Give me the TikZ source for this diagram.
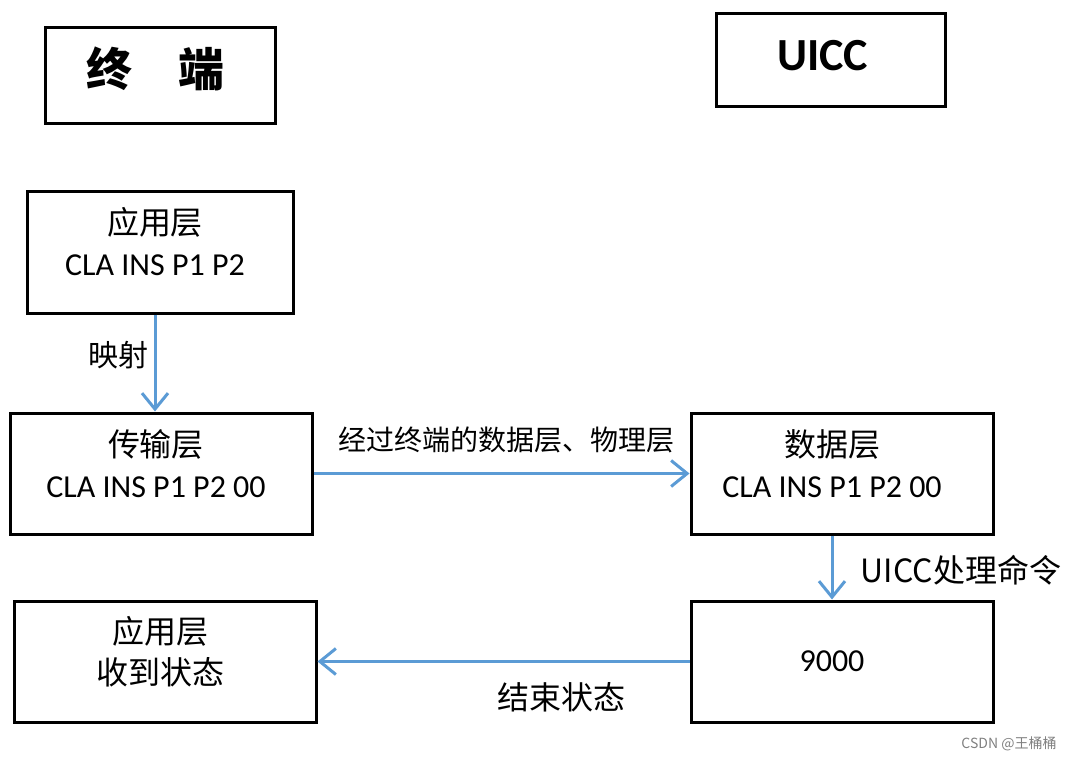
\documentclass[tikz,border=0pt]{standalone}
\usepackage{fontspec}
\setmainfont{Carlito}
\newfontfamily\cjk{Noto Sans CJK SC}
\usepackage{tikz}
\usetikzlibrary{arrows.meta}

\definecolor{arrowblue}{HTML}{5B9BD5}

\begin{document}
\begin{tikzpicture}[x=1pt,y=-1pt,
        box/.style={draw, line width=3pt, minimum width=302pt, minimum height=121pt, inner sep=0pt},
        txt/.style={align=center, font=\fontsize{32}{41}\selectfont},
        lab/.style={font=\cjk\fontsize{30}{36}\selectfont},
        arr/.style={draw=arrowblue, line width=3pt, -{Straight Barb[length=16pt,width=26pt]}}]
        \useasboundingbox (0,0) rectangle (1080,760);

        % the two sides
        \node[box, minimum width=230pt, minimum height=95pt] (term) at (160,75.5) {};
        \node[txt, font=\cjk\bfseries\fontsize{46}{50}\selectfont] (termtext) at ([xshift=-5,yshift=7]term) {终\hspace{1em}端};
        \node[box, minimum width=229pt, minimum height=93pt] (uicc) at (830.5,60.5) {};
        \node[txt, font=\bfseries\fontsize{46}{50}\selectfont] (uicctext) at ([xshift=-8,yshift=5]uicc) {UICC};

        % layers
        \node[box, minimum width=266pt, minimum height=122pt] (app) at (160,252) {};
        \node[txt] (apptext) at ([xshift=-5,yshift=10]app) {{\cjk 应用层}\\CLA INS P1 P2};
        \node[box] (trans) at (161,473.5) {};
        \node[txt] (transtext) at ([xshift=-5,yshift=10]trans) {{\cjk 传输层}\\CLA INS P1 P2 00};
        \node[box] (data) at (842,473.5) {};
        \node[txt] (datatext) at ([xshift=-10,yshift=10]data) {{\cjk 数据层}\\CLA INS P1 P2 00};
        \node[box] (resp) at (842,661.5) {};
        \node[txt] (resptext) at ([xshift=-10]resp) {9000};
        \node[box] (recv) at (165,661.5) {};
        \node[txt] (recvtext) at ([xshift=-5,yshift=10]recv) {{\cjk 应用层}\\{\cjk 收到状态}};

        % connectors
        \draw[arr] ([xshift=-5]app.south) -- ([xshift=-5]app.south |- trans.north);
        \draw[arr] (trans.east) -- (data.west);
        \draw[arr] ([xshift=-10]data.south) -- ([xshift=-10]data.south |- resp.north);
        \draw[arr] (resp.west) -- (recv.east);

        \node[lab] (maplab) at (118,355) {映射};
        \node[lab, font=\cjk\fontsize{28}{34}\selectfont] (passlab) at (506,440) {经过终端的数据层、物理层};
        \node[lab, font=\cjk\fontsize{32}{38}\selectfont] (proclab) at (961,570) {UICC处理命令};
        \node[lab, font=\cjk\fontsize{32}{38}\selectfont] (endlab) at (561,697) {结束状态};

        \node[text=gray, font=\cjk\fontsize{14}{16}\selectfont] (mark) at (1009,744) {CSDN @王桶桶};
\end{tikzpicture}
\end{document}
